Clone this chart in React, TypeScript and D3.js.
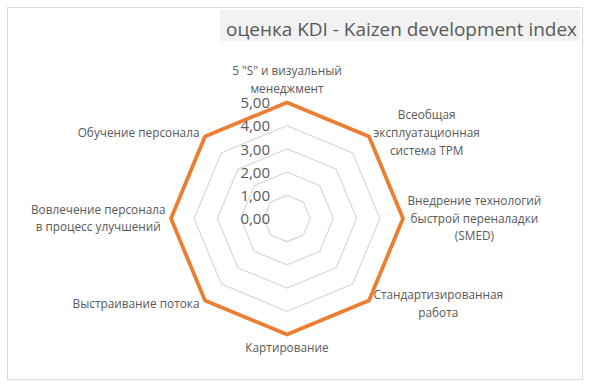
import React, { useMemo } from "react";
import * as d3 from "d3";

const title = "оценка KDI - Kaizen development index";
const categories = [
  "5 \"S\" и визуальный\nменеджмент",
  "Всеобщая\nэксплуатационная\nсистема TPM",
  "Внедрение технологий\nбыстрой переналадки\n(SMED)",
  "Стандартизированная\nработа",
  "Картирование",
  "Выстраивание потока",
  "Вовлечение персонала\nв процесс улучшений",
  "Обучение персонала",
];
const values = [5, 5, 5, 5, 5, 5, 5, 5];
const tickValues = [0, 1, 2, 3, 4, 5];

const W = 591;
const H = 389;
const CX = 287;
const CY = 218.5;
const R = 116;
const FONT = "'Open Sans', 'Noto Sans', sans-serif";
const LABEL_SIZE = 11.8;
const LINE_H = 17.6;
const TEXT_COLOR = "#595959";

function measure(text: string, size: number): number {
  const c = document.createElement("canvas");
  const ctx = c.getContext("2d");
  if (!ctx) return text.length * size * 0.55;
  ctx.font = `${size}px 'Open Sans'`;
  return ctx.measureText(text).width;
}

export default function App() {
  const r = d3.scaleLinear().domain([0, 5]).range([0, R]);
  const angle = d3
    .scalePoint<number>()
    .domain(d3.range(categories.length + 1))
    .range([0, 2 * Math.PI]);
  const ang = (i: number) => angle(i) as number;

  const ringLine = d3
    .lineRadial<number>()
    .angle((_, i) => ang(i))
    .radius((d) => r(d))
    .curve(d3.curveLinearClosed);

  const seriesPath = ringLine(values) || "";

  const titleSize = 19;
  const titleWidth = Math.min(351, measure(title, titleSize) * 1.0);

  const labels = useMemo(
    () =>
      categories.map((cat, i) => {
        const lines = cat.split("\n");
        const widths = lines.map((l) => measure(l, LABEL_SIZE));
        const w = Math.max(...widths);
        const a = ang(i);
        const s = Math.sin(a);
        const c = Math.cos(a);
        const vx = CX + r(values[i]) * s;
        const vy = CY - r(values[i]) * c;
        let centerX = vx;
        let firstY = vy;
        const n = lines.length;
        if (Math.abs(s) < 0.01) {
          centerX = vx;
          if (c > 0) {
            firstY = vy - 14 - (n - 1) * LINE_H;
          } else {
            firstY = vy + 13.5;
          }
        } else {
          centerX = s > 0 ? vx + 4.5 + w / 2 : vx - 5.5 - w / 2;
          const cy = vy - c * 5;
          firstY = cy - ((n - 1) * LINE_H) / 2;
        }
        return { lines, centerX, firstY };
      }),
    []
  );

  return (
    <svg
      width={W}
      height={H}
      style={{ position: "absolute", left: 0, top: 0, background: "#ffffff" }}
      fontFamily={FONT}
    >
      <rect x={0} y={0} width={W} height={H} fill="#ffffff" />
      <rect x={7.5} y={7.5} width={575} height={372} fill="#ffffff" stroke="#d9d9d9" strokeWidth={1} />
      <rect x={220} y={10} width={360} height={31} fill="#f2f2f2" />
      <text
        x={226}
        y={35.5}
        fontSize={titleSize}
        fill={TEXT_COLOR}
        textLength={titleWidth}
        lengthAdjust="spacingAndGlyphs"
      >
        {title}
      </text>

      <g transform={`translate(${CX},${CY})`}>
        {tickValues
          .filter((t) => t > 0)
          .map((t) => (
            <path
              key={t}
              d={ringLine(categories.map(() => t)) || ""}
              fill="none"
              stroke="#d9d9d9"
              strokeWidth={1.25}
            />
          ))}
        <path
          d={seriesPath}
          fill="none"
          stroke="#ED7D31"
          strokeWidth={3.75}
          strokeLinejoin="round"
        />
        {tickValues.map((t) => (
          <text
            key={t}
            x={-17}
            y={-r(t)}
            dy="0.38em"
            textAnchor="end"
            fontSize={15}
            fill={TEXT_COLOR}
          >
            {d3.format(".2f")(t).replace(".", ",")}
          </text>
        ))}
      </g>

      {labels.map((lb, i) => (
        <text key={i} fontSize={LABEL_SIZE} fill={TEXT_COLOR} textAnchor="middle">
          {lb.lines.map((l, j) => (
            <tspan key={j} x={lb.centerX} y={lb.firstY + j * LINE_H} dy="0.35em">
              {l}
            </tspan>
          ))}
        </text>
      ))}
    </svg>
  );
}
